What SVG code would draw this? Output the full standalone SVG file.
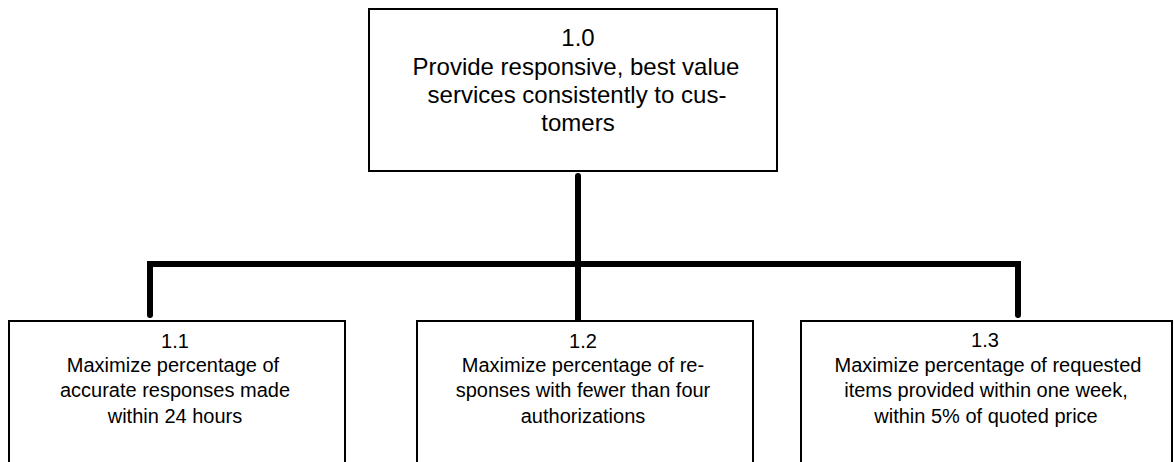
<svg xmlns="http://www.w3.org/2000/svg" width="1174" height="462" viewBox="0 0 1174 462">
<style>
.box{fill:#fff;stroke:#000;stroke-width:2}
.t{font-family:"Liberation Sans",Arial,sans-serif;fill:#000;text-anchor:middle}
.t0{font-size:24px}
.t1{font-size:20px}
.c{stroke:#000;stroke-width:6;fill:none;stroke-linecap:round;stroke-linejoin:miter}
</style>
<rect width="1174" height="462" fill="#fff"/>
<g id="connectors">
<path class="c" d="M578 176 V320"/>
<path class="c" d="M150 315 V264 H1018 V315"/>
</g>
<g id="n1_0">
<rect class="box" x="369" y="9" width="408" height="162"/>
<text class="t t0"><tspan x="578" y="46">1.0</tspan><tspan x="576" y="75">Provide responsive, best value</tspan><tspan x="577" y="103">services consistently to cus-</tspan><tspan x="578" y="131">tomers</tspan></text>
</g>
<g id="n1_1">
<rect class="box" x="9" y="321" width="336" height="160"/>
<text class="t t1"><tspan x="175" y="348">1.1</tspan><tspan x="173" y="372">Maximize percentage of</tspan><tspan x="175" y="397">accurate responses made</tspan><tspan x="175" y="423">within 24 hours</tspan></text>
</g>
<g id="n1_2">
<rect class="box" x="417" y="321" width="336" height="160"/>
<text class="t t1"><tspan x="583" y="348">1.2</tspan><tspan x="583" y="372">Maximize percentage of re-</tspan><tspan x="583" y="397">sponses with fewer than four</tspan><tspan x="583" y="423">authorizations</tspan></text>
</g>
<g id="n1_3">
<rect class="box" x="801" y="321" width="371" height="160"/>
<text class="t t1"><tspan x="985" y="347">1.3</tspan><tspan x="988" y="372">Maximize percentage of requested</tspan><tspan x="986" y="397">items provided within one week,</tspan><tspan x="986" y="423">within 5% of quoted price</tspan></text>
</g>
</svg>
